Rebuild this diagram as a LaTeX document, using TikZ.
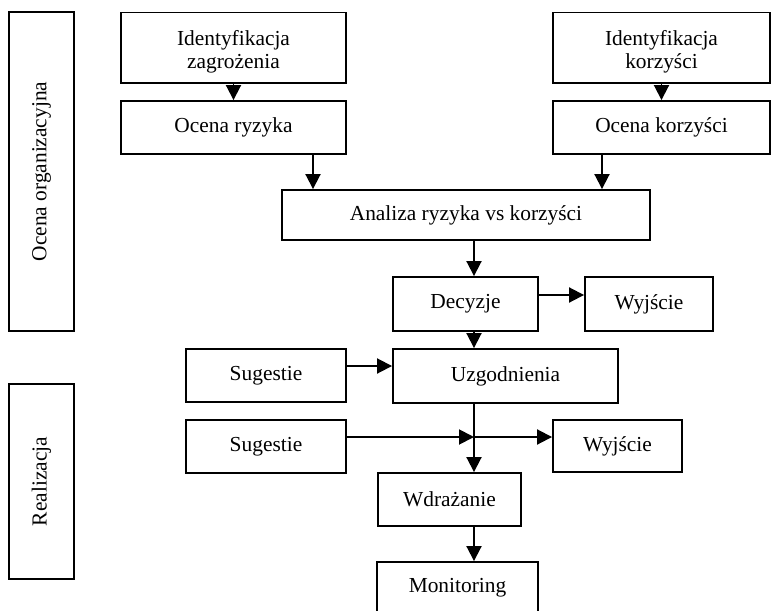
\documentclass[tikz,border=0pt]{standalone}
\usepackage{fontspec}
\setmainfont{Liberation Serif}
\usetikzlibrary{arrows.meta}
\usetikzlibrary{positioning}

\begin{document}
\begin{tikzpicture}[x=0.5pt, y=-0.5pt, line width=0.95pt,
                    >={Triangle[length=7.5pt,width=7.5pt]},
                    main node/.style={rectangle,draw,inner sep=0pt,align=center,
                                      font=\fontsize{10.7}{11.3}\selectfont}]

  \useasboundingbox (0,0) rectangle (772,611);
  \clip (0,0) rectangle (772,611);

  % phases on the left
  \node[main node, rotate=90, minimum width=159.5pt, minimum height=32.5pt] (org) at (41.5,171.5) {Ocena organizacyjna};
  \node[main node, rotate=90, minimum width=97.5pt, minimum height=32.5pt] (real) at (41.5,481.5) {Realizacja};

  % risk and benefit
  \node[main node, minimum width=112.5pt, minimum height=35.25pt] (idz) at (233.5,47.75) {\rule{0pt}{11.5pt}Identyfikacja\\zagrożenia};
  \node[main node, minimum width=112.5pt, minimum height=26.5pt] (ocr) at (233.5,127.5) {Ocena ryzyka};
  \node[main node, minimum width=108.5pt, minimum height=35.25pt] (idk) at (661.5,47.75) {\rule{0pt}{11.5pt}Identyfikacja\\korzyści};
  \node[main node, minimum width=108.5pt, minimum height=26.5pt] (ock) at (661.5,127.5) {Ocena korzyści};
  \node[main node, minimum width=184pt, minimum height=25pt] (anl) at (466,215) {Analiza ryzyka vs korzyści};
  \node[main node, minimum width=72.5pt, minimum height=27pt] (dec) at (465.5,304) {Decyzje};
  \node[main node, minimum width=64pt, minimum height=27pt] (wy1) at (649,304) {Wyjście};

  % realisation
  \node[main node, minimum width=80pt, minimum height=26.5pt] (sug1) at (266,375.5) {Sugestie};
  \node[main node, minimum width=112.5pt, minimum height=27pt] (uzg) at (505.5,376) {Uzgodnienia};
  \node[main node, minimum width=80pt, minimum height=26.5pt] (sug2) at (266,446.5) {Sugestie};
  \node[main node, minimum width=64.5pt, minimum height=26pt] (wy2) at (617.5,446) {Wyjście};
  \node[main node, minimum width=71.5pt, minimum height=26.5pt] (wdr) at (449.5,499.5) {Wdrażanie};
  \node[main node, minimum width=80.5pt, minimum height=26pt] (mon) at (457.5,588) {Monitoring};

  \coordinate (c1) at (313,0);
  \coordinate (c2) at (602,0);
  \coordinate (col) at (474,0);
  \coordinate (joint) at (474,437);

  \path[->] (idz) edge (ocr);
  \path[->] (idk) edge (ock);
  \path[->] (ocr.south -| c1) edge (anl.north -| c1);
  \path[->] (ock.south -| c2) edge (anl.north -| c2);
  \path[->] (anl.south -| col) edge (dec.north -| col);
  \path[->] ([yshift=4.5pt]dec.east) edge ([yshift=4.5pt]wy1.west);
  \path[->] (dec.south -| col) edge (uzg.north -| col);
  \path[->] ([yshift=4.75pt]sug1.east) edge ([yshift=4.75pt]sug1.east -| uzg.west);
  \path[->] (uzg.south -| col) edge (wdr.north -| col);
  \path[->] ([yshift=4.75pt]sug2.east) edge (joint);
  \path[->] (joint) edge (wy2.west |- joint);
  \path[->] (wdr.south -| col) edge (mon.north -| col);

\end{tikzpicture}
\end{document}
